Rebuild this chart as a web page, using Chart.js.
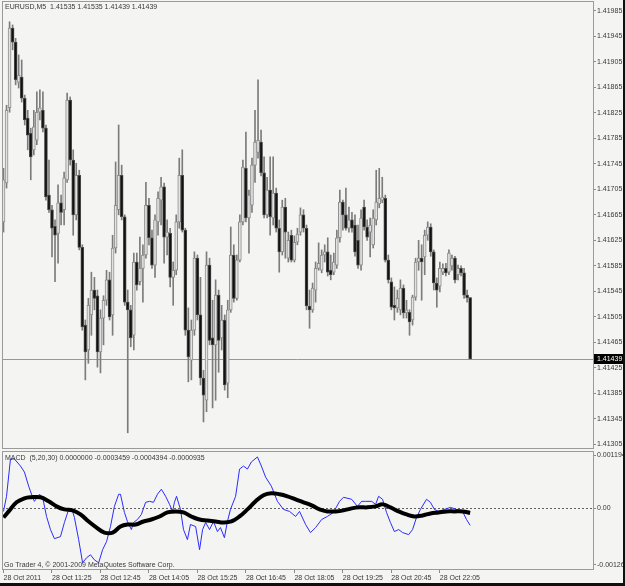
<!DOCTYPE html>
<html>
<head>
<meta charset="utf-8">
<script src="https://cdn.jsdelivr.net/npm/chart.js@4.4.1/dist/chart.umd.min.js"></script>
<style>
  html, body { margin: 0; padding: 0; background: #f4f4f2; }
</style>
</head>
<body>
<canvas id="myChart" width="625" height="586"></canvas>
<script>
// EURUSD M5, 28 Oct 2011 - one entry per bar
var opens = [
  1.41654,1.41715,1.41833,1.41958,1.41936,1.41873,1.41881,1.41848,1.41817,1.41793,
  1.41767,1.41782,1.41826,1.41829,1.41801,1.41696,1.41673,1.41647,1.41636,1.41684,
  1.41673,1.41720,1.41845,1.41751,1.41665,1.41727,1.41614,1.41492,1.41453,1.41508,
  1.41547,1.41538,1.41450,1.41503,1.41531,1.41563,1.41508,1.41613,1.41673,1.41727,
  1.41662,1.41528,1.41516,1.41476,1.41591,1.41560,1.41581,1.41602,1.41680,1.41629,
  1.41586,1.41654,1.41688,1.41709,1.41630,1.41636,1.41567,1.41578,1.41654,1.41727,
  1.41641,1.41484,1.41437,1.41484,1.41597,1.41508,1.41409,1.41374,1.41586,1.41472,
  1.41461,1.41539,1.41472,1.41500,1.41401,1.41516,1.41602,1.41534,1.41594,1.41654,
  1.41738,1.41660,1.41680,1.41743,1.41763,1.41779,1.41731,1.41665,1.41704,1.41660,
  1.41699,1.41644,1.41607,1.41677,1.41597,1.41633,1.41594,1.41622,1.41638,1.41665,
  1.41644,1.41522,1.41516,1.41547,1.41581,1.41578,1.41602,1.41607,1.41578,1.41575,
  1.41586,1.41629,1.41685,1.41665,1.41644,1.41657,1.41649,1.41625,1.41586,1.41677,
  1.41646,1.41638,1.41618,1.41657,1.41682,1.41688,1.41691,1.41594,1.41560,1.41523,
  1.41519,1.41516,1.41550,1.41511,1.41512,1.41500,1.41536,1.41591,1.41597,1.41599,
  1.41633,1.41646,1.41607,1.41558,1.41553,1.41575,1.41581,1.41575,1.41585,1.41597,
  1.41571,1.41581,1.41574,1.41539,1.41535
];
var highs = [
  1.41738,1.41837,1.41968,1.41963,1.41942,1.41916,1.41908,1.41853,1.41829,1.41801,
  1.41829,1.41858,1.41861,1.41858,1.41806,1.41751,1.41680,1.41657,1.41712,1.41696,
  1.41732,1.41856,1.41850,1.41767,1.41746,1.41735,1.41618,1.41500,1.41534,1.41575,
  1.41567,1.41547,1.41516,1.41538,1.41578,1.41575,1.41633,1.41748,1.41806,1.41743,
  1.41665,1.41547,1.41523,1.41605,1.41605,1.41630,1.41618,1.41716,1.41691,1.41641,
  1.41665,1.41701,1.41724,1.41715,1.41657,1.41644,1.41591,1.41665,1.41754,1.41767,
  1.41644,1.41519,1.41500,1.41607,1.41602,1.41567,1.41421,1.41607,1.41597,1.41531,
  1.41563,1.41547,1.41523,1.41508,1.41531,1.41646,1.41618,1.41602,1.41665,1.41751,
  1.41795,1.41704,1.41754,1.41829,1.41877,1.41798,1.41756,1.41724,1.41756,1.41756,
  1.41707,1.41657,1.41688,1.41691,1.41638,1.41641,1.41632,1.41644,1.41676,1.41673,
  1.41649,1.41547,1.41558,1.41591,1.41621,1.41610,1.41618,1.41629,1.41602,1.41605,
  1.41641,1.41704,1.41688,1.41707,1.41677,1.41669,1.41665,1.41649,1.41673,1.41688,
  1.41657,1.41660,1.41673,1.41735,1.41738,1.41724,1.41696,1.41602,1.41566,1.41552,
  1.41547,1.41563,1.41555,1.41531,1.41516,1.41539,1.41597,1.41625,1.41618,1.41641,
  1.41654,1.41651,1.41610,1.41566,1.41591,1.41588,1.41589,1.41610,1.41602,1.41600,
  1.41586,1.41585,1.41581,1.41547,1.41535
];
var lows = [
  1.41638,1.41707,1.41826,1.41924,1.41869,1.41864,1.41842,1.41806,1.41767,1.41720,
  1.41759,1.41775,1.41814,1.41795,1.41688,1.41669,1.41599,1.41560,1.41589,1.41649,
  1.41649,1.41716,1.41743,1.41633,1.41657,1.41610,1.41484,1.41406,1.41432,1.41476,
  1.41516,1.41426,1.41417,1.41461,1.41523,1.41500,1.41476,1.41605,1.41665,1.41657,
  1.41523,1.41323,1.41458,1.41453,1.41547,1.41555,1.41528,1.41597,1.41618,1.41581,
  1.41567,1.41633,1.41649,1.41589,1.41602,1.41552,1.41523,1.41571,1.41644,1.41638,
  1.41476,1.41403,1.41406,1.41476,1.41500,1.41398,1.41340,1.41356,1.41461,1.41362,
  1.41374,1.41418,1.41453,1.41390,1.41378,1.41512,1.41528,1.41531,1.41591,1.41649,
  1.41654,1.41605,1.41669,1.41716,1.41754,1.41726,1.41660,1.41660,1.41633,1.41649,
  1.41638,1.41575,1.41602,1.41597,1.41591,1.41591,1.41591,1.41618,1.41633,1.41638,
  1.41516,1.41487,1.41512,1.41528,1.41578,1.41574,1.41591,1.41569,1.41563,1.41571,
  1.41581,1.41622,1.41641,1.41641,1.41638,1.41638,1.41600,1.41581,1.41578,1.41641,
  1.41625,1.41599,1.41613,1.41649,1.41676,1.41684,1.41591,1.41558,1.41516,1.41500,
  1.41512,1.41508,1.41503,1.41503,1.41476,1.41492,1.41531,1.41578,1.41531,1.41571,
  1.41625,1.41600,1.41547,1.41520,1.41544,1.41571,1.41569,1.41571,1.41578,1.41558,
  1.41563,1.41569,1.41534,1.41528,1.41439
];
var closes = [
  1.41720,1.41829,1.41958,1.41936,1.41877,1.41884,1.41848,1.41814,1.41790,1.41756,
  1.41803,1.41826,1.41833,1.41801,1.41693,1.41673,1.41644,1.41633,1.41684,1.41669,
  1.41723,1.41845,1.41751,1.41665,1.41727,1.41614,1.41489,1.41450,1.41523,1.41547,
  1.41534,1.41450,1.41503,1.41531,1.41563,1.41505,1.41613,1.41680,1.41727,1.41662,
  1.41528,1.41516,1.41472,1.41591,1.41555,1.41581,1.41602,1.41680,1.41629,1.41586,
  1.41657,1.41691,1.41709,1.41630,1.41638,1.41567,1.41578,1.41654,1.41727,1.41641,
  1.41484,1.41442,1.41484,1.41597,1.41508,1.41409,1.41382,1.41586,1.41468,1.41461,
  1.41539,1.41468,1.41500,1.41398,1.41516,1.41602,1.41534,1.41594,1.41654,1.41740,
  1.41660,1.41696,1.41743,1.41779,1.41782,1.41731,1.41665,1.41704,1.41662,1.41699,
  1.41644,1.41607,1.41677,1.41638,1.41625,1.41594,1.41622,1.41635,1.41665,1.41644,
  1.41522,1.41516,1.41550,1.41581,1.41589,1.41602,1.41607,1.41575,1.41571,1.41591,
  1.41629,1.41685,1.41665,1.41644,1.41657,1.41644,1.41607,1.41586,1.41660,1.41646,
  1.41630,1.41649,1.41660,1.41685,1.41691,1.41693,1.41594,1.41563,1.41520,1.41519,
  1.41534,1.41550,1.41511,1.41516,1.41497,1.41536,1.41591,1.41597,1.41591,1.41633,
  1.41646,1.41607,1.41558,1.41547,1.41581,1.41581,1.41574,1.41605,1.41597,1.41563,
  1.41581,1.41574,1.41539,1.41535,1.41439
];

// MACD (5,20,30): main line (blue) and signal (thick black), by bar position
var macdBars = [0,1,2.3,3.6,5.6,6.9,8.3,9.6,10.2,11.9,12.9,14.2,15.5,16.8,18.8,20.1,21.5,22.8,23.4,24.8,
  26.1,27.4,28.7,30,31.4,32.7,34,35.3,36.6,38,38.6,39.9,40.9,42.2,42.9,44.2,45.5,46.9,48.2,49.5,
  50.8,52.1,53.5,54.8,55.8,56.4,57.1,58.4,59.4,60.7,61.7,63.4,64.7,65.7,66.7,68,69.3,70.6,71.6,72.9,
  73.9,74.9,76.6,77.9,79.2,80.5,81.8,83.8,85.1,86.5,88.4,90.4,92.4,94.4,96.4,97.7,99.7,101.3,103,105,
  106.9,108.9,110.9,112.2,114.9,116.8,118.2,119.5,121.5,122.8,123.8,125.1,126.4,127.7,129,130.4,131.7,133.7,135,136.3,
  137.6,139.6,140.9,142.2,143.6,145.5,147.5,149.5,151.5,152.8,154];
var macdMain = [-0.000062,0.000247,0.00101,0.00101,0.000866,0.000742,0.000454,0.000227,0.000144,0.000289,
  0.000227,-0.000165,-0.000433,-0.000619,-0.000577,-0.000289,-0.000021,-0.000062,-0.000186,-0.000639,
  -0.001113,-0.00101,-0.000949,-0.001052,-0.001113,-0.000845,-0.00068,-0.000371,0.000041,0.000289,
  0.000289,-0.000082,-0.000268,-0.000433,-0.000289,-0.000227,-0.000124,0.000124,0.000144,0.000124,
  0.000289,0.000392,0.000247,0.000082,-0.000062,0.000124,0.000247,-0.000021,-0.000433,-0.000639,
  -0.00033,-0.000371,-0.000845,-0.000433,-0.000289,-0.000433,-0.000268,-0.000474,-0.000392,-0.000598,
  -0.000268,-0.000021,0.000247,0.000804,0.000866,0.000804,0.000949,0.001052,0.000866,0.000639,
  0.000454,0.000144,-0.000021,-0.000062,-0.000165,-0.000062,-0.00033,-0.000495,-0.000392,-0.000227,
  -0.000165,-0.000082,0.000144,0.000227,0.000186,0.000041,0.000144,0.000144,0.000144,0.000082,
  0.000247,0.000186,-0.000082,-0.000289,-0.000474,-0.000433,-0.000495,-0.000536,-0.000433,-0.000186,
  -0.000021,0.000186,0.000124,-0.000021,-0.000062,-0.000021,0.000021,-0.000021,-0.000062,-0.000227,
  -0.000346];
var signalBars = [0,1.7,4.3,6.9,8.9,12.2,14.9,17.5,20.1,22.8,25.4,28.1,30.7,33.3,36,38.6,40.9,43.6,46.2,48.8,
  51.5,54.1,56.8,59.4,62,64.7,67.3,70,72.6,75.2,77.9,80.5,83.2,85.8,88.4,91.1,93.7,96.4,99,101.7,
  104.3,106.9,109.6,112.2,114.9,117.5,120.1,122.8,125.1,127.7,130.4,133,135.6,138.3,140.9,143.6,146.2,148.8,151.5,154];
var signalLine = [-0.000186,-0.000062,0.000124,0.000206,0.000227,0.000227,0.000144,0.000041,-0.000021,-0.000041,
  -0.000124,-0.000268,-0.000392,-0.000495,-0.000495,-0.000371,-0.00033,-0.00033,-0.000268,-0.000227,
  -0.000165,-0.000082,-0.000062,-0.000082,-0.000165,-0.000227,-0.000247,-0.000268,-0.000289,-0.000268,
  -0.000165,-0.000021,0.000144,0.000268,0.000309,0.000289,0.000247,0.000186,0.000124,0.000062,
  -0.000021,-0.000062,-0.000062,-0.000041,0,0.000021,0.000021,0.000041,0.000082,0.000021,
  -0.000062,-0.000124,-0.000165,-0.000144,-0.000103,-0.000082,-0.000062,-0.000062,-0.000062,-0.0000935];

// axis labels
var timeTickBars = [0, 16, 32, 48, 64, 80, 96, 112, 128, 144];
var timeLabels = ['28 Oct 2011', '28 Oct 11:25', '28 Oct 12:45', '28 Oct 14:05', '28 Oct 15:25',
  '28 Oct 16:45', '28 Oct 18:05', '28 Oct 19:25', '28 Oct 20:45', '28 Oct 22:05'];
var priceTicks = [1.41305, 1.41345, 1.41385, 1.41425, 1.41465, 1.41505, 1.41545, 1.41585, 1.41625,
  1.41665, 1.41705, 1.41745, 1.41785, 1.41825, 1.41865, 1.41905, 1.41945, 1.41985];
var macdTickLabels = ['0.001194', '0.00', '-0.00126'];

var titleText = 'EURUSD,M5  1.41535 1.41535 1.41439 1.41439';
var macdText = 'MACD  (5,20,30) 0.0000000 -0.0003459 -0.0004394 -0.0000935';
var footerText = 'Go Trader 4, \u00a9 2001-2009 MetaQuotes Software Corp.';

var FONT = '"Liberation Sans", Arial, sans-serif';
var TEXT = '#383838';
Chart.defaults.font.family = FONT;
Chart.defaults.font.size = 7;
Chart.defaults.color = TEXT;

var isUp = (i) => closes[i] >= opens[i];

var decor = {
  id: 'decor',
  beforeDraw: function(chart) {
    var c = chart.ctx;
    c.save();
    c.fillStyle = '#f4f4f2';
    c.fillRect(0, 0, chart.width, chart.height);
    c.restore();
  },
  beforeDatasetsDraw: function(chart) {
    var c = chart.ctx, a = chart.chartArea;
    var y = chart.scales.y, y2 = chart.scales.y2;
    c.save();
    // last price line
    var py = Math.round(y.getPixelForValue(closes[closes.length - 1])) + 0.5;
    c.strokeStyle = '#8c97b6';
    c.lineWidth = 1;
    c.beginPath(); c.moveTo(a.left, py); c.lineTo(a.right, py); c.stroke();
    // MACD zero level
    var zy = Math.round(y2.getPixelForValue(0)) + 0.5;
    c.strokeStyle = '#606060';
    c.setLineDash([2, 2]);
    c.beginPath(); c.moveTo(a.left, zy); c.lineTo(a.right, zy); c.stroke();
    c.restore();
  },
  afterDraw: function(chart) {
    var c = chart.ctx, a = chart.chartArea;
    var y = chart.scales.y, y2 = chart.scales.y2;
    c.save();
    // panel frames
    c.strokeStyle = '#9a9a9a';
    c.lineWidth = 1;
    c.strokeRect(a.left + 0.5, y.top - 0.5, a.right - a.left, y.bottom - y.top - 1);
    c.strokeRect(a.left + 0.5, y2.top + 1.5, a.right - a.left, y2.bottom - y2.top - 2);
    // texts
    c.fillStyle = TEXT;
    c.font = '7px ' + FONT;
    c.textBaseline = 'middle';
    c.textAlign = 'left';
    c.fillText(titleText, 5, y.top + 5);
    c.fillText(macdText, 5, y2.top + 8);
    c.fillText(footerText, 4, y2.bottom - 5);
    // last price box on the axis
    var py = Math.round(y.getPixelForValue(closes[closes.length - 1]));
    c.fillStyle = '#000000';
    c.fillRect(a.right + 1, py - 5, 30, 10);
    c.fillStyle = '#ffffff';
    c.fillText(closes[closes.length - 1].toFixed(5), a.right + 4, py);
    // outer window edges
    c.fillStyle = '#101010';
    c.fillRect(chart.width - 2, 0, 2, chart.height);
    c.fillRect(0, chart.height - 3, chart.width, 3);
    c.restore();
  }
};

var bars = opens.map((o, i) => i);

var chart = new Chart(document.getElementById('myChart'), {
  type: 'bar',
  data: {
    datasets: [
      {
        type: 'line',
        data: signalBars.map((b, k) => ({x: b, y: signalLine[k]})),
        yAxisID: 'y2',
        borderColor: '#000000',
        borderWidth: 4,
        pointRadius: 0,
        tension: 0.4,
        order: 0
      },
      {
        type: 'line',
        data: macdBars.map((b, k) => ({x: b, y: macdMain[k]})),
        yAxisID: 'y2',
        borderColor: '#2b2bff',
        borderWidth: 1,
        pointRadius: 0,
        tension: 0,
        order: 1
      },
      {
        // candle bodies
        data: bars.map(i => ({x: i, y: [opens[i], closes[i]]})),
        yAxisID: 'y',
        grouped: false,
        barThickness: 3,
        minBarLength: 1,
        borderWidth: 1,
        borderSkipped: false,
        backgroundColor: ctx => isUp(ctx.dataIndex) ? '#e2e2e2' : '#111111',
        borderColor: ctx => isUp(ctx.dataIndex) ? '#8e8e8e' : '#4a4a4a',
        order: 2
      },
      {
        // wicks
        data: bars.map(i => ({x: i, y: [lows[i], highs[i]]})),
        yAxisID: 'y',
        grouped: false,
        barThickness: 1,
        borderWidth: 0,
        backgroundColor: '#7c7c7c',
        order: 3
      }
    ]
  },
  options: {
    responsive: false,
    animation: false,
    events: [],
    layout: {
      padding: {top: 2, left: 2, right: 2, bottom: 3}
    },
    plugins: {
      legend: {display: false},
      tooltip: {enabled: false}
    },
    scales: {
      x: {
        type: 'linear',
        offset: false,  // bar charts default to offset, which squeezes the bars
        min: -0.5,
        max: 194.55,
        border: {display: false},
        grid: {offset: false, drawOnChartArea: false, drawTicks: true, tickLength: 3, color: '#8a8a8a'},
        ticks: {
          autoSkip: false,
          maxRotation: 0,
          align: 'start',
          padding: 1,
          callback: (value, index) => timeLabels[index]
        },
        afterBuildTicks: s => { s.ticks = timeTickBars.map(v => ({value: v})); },
        afterFit: s => { s.height = 13; s.paddingLeft = 0; s.paddingRight = 0; }
      },
      y: {
        position: 'right',
        stack: 'panes',
        stackWeight: 448,
        min: 1.41296,
        max: 1.41999,
        border: {display: false},
        grid: {drawOnChartArea: false, drawTicks: true, tickLength: 3, color: '#8a8a8a'},
        ticks: {
          autoSkip: false,
          padding: 1,
          callback: value => value.toFixed(5)
        },
        afterBuildTicks: s => { s.ticks = priceTicks.map(v => ({value: v})); },
        afterFit: s => { s.width = 30; s.paddingTop = 0; s.paddingBottom = 0; }
      },
      y2: {
        position: 'right',
        stack: 'panes',
        stackWeight: 120,
        min: -0.00126,
        max: 0.001194,
        border: {display: false},
        grid: {drawOnChartArea: false, drawTicks: true, tickLength: 3, color: '#8a8a8a'},
        ticks: {
          autoSkip: false,
          padding: 1,
          callback: (value, index) => macdTickLabels[index]
        },
        // top and bottom labels sit just inside the pane, like MT4 draws them
        afterBuildTicks: s => {
          var pad = (s.max - s.min) * 0.042;
          s.ticks = [{value: s.max - pad}, {value: 0}, {value: s.min + pad}];
        },
        afterFit: s => { s.width = 30; s.paddingTop = 0; s.paddingBottom = 0; }
      }
    }
  },
  plugins: [decor]
});
</script>
</body>
</html>
